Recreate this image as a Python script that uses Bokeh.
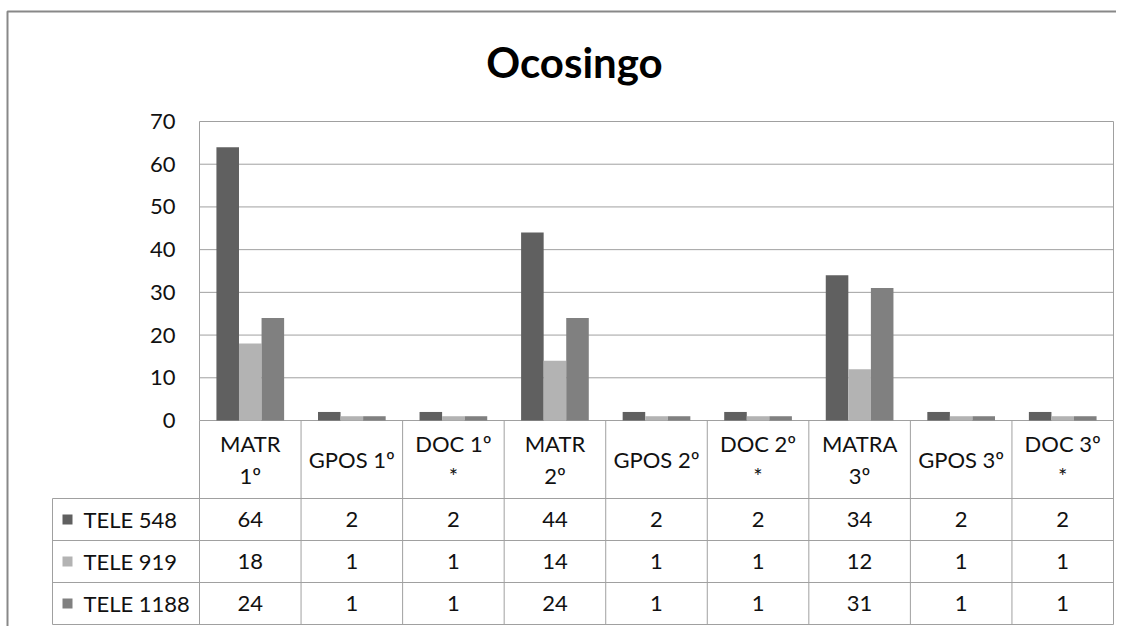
from bokeh.plotting import figure
from bokeh.models import Range1d, FixedTicker, ColumnDataSource
from bokeh.transform import dodge
from bokeh.core.properties import value
from bokeh.embed import file_html
from bokeh.resources import INLINE

# ---------------- data ----------------
title_text = "Ocosingo"
categories = ["MATR 1º", "GPOS 1º", "DOC 1º *", "MATR 2º", "GPOS 2º",
              "DOC 2º *", "MATRA 3º", "GPOS 3º", "DOC 3º *"]
header_labels = ["MATR\n1º", "GPOS 1º", "DOC 1º\n*", "MATR\n2º", "GPOS 2º",
                 "DOC 2º\n*", "MATRA\n3º", "GPOS 3º", "DOC 3º\n*"]
series_names = ["TELE 548", "TELE 919", "TELE 1188"]
tele_548 = [64, 2, 2, 44, 2, 2, 34, 2, 2]
tele_919 = [18, 1, 1, 14, 1, 1, 12, 1, 1]
tele_1188 = [24, 1, 1, 24, 1, 1, 31, 1, 1]
y_ticks = [0, 10, 20, 30, 40, 50, 60, 70]

# ---------------- layout / styles ----------------
W, H = 1116, 626
PLOT_L, PLOT_R = 199, 1113          # px of chart area
PLOT_T, PLOT_B = 121, 420           # px of 70 line and 0 line
TABLE_L = 52
HDR_PX, ROW_PX = 78, 42
YMAX = y_ticks[-1]
N = len(categories)
PXU = (PLOT_R - PLOT_L) / N         # px per category
PYU = (PLOT_B - PLOT_T) / YMAX      # px per value unit


def X(px):
    return (px - PLOT_L) / PXU


def Y(py):
    return (PLOT_B - py) / PYU


colors = ["#606060", "#b3b3b3", "#808080"]
GRID = "#a0a0a0"
BORDER = "#888888"
TXT = "#111111"
FONT = "Lato"
FS = "22px"
BAR_W = 0.2222

HDR = HDR_PX / PYU
ROW = ROW_PX / PYU
LW = -X(TABLE_L)                    # label column width (category units)
TB = -(HDR + 3 * ROW)               # table bottom

series = [tele_548, tele_919, tele_1188]
xc = [i + 0.5 for i in range(N)]
src = ColumnDataSource(dict(x=xc, lab=header_labels,
                            s0=tele_548, s1=tele_919, s2=tele_1188))

p = figure(width=W, height=H,
           x_range=Range1d(X(0), X(W)), y_range=Range1d(Y(H), Y(0)),
           x_axis_location=None,
           min_border_left=0, min_border_right=0,
           min_border_top=0, min_border_bottom=0,
           output_backend="svg", toolbar_location=None)
p.background_fill_color = "white"
p.border_fill_color = "white"
p.outline_line_color = None
p.xgrid.visible = False
p.ygrid.visible = False

# y axis drawn at the chart's left edge
ya = p.yaxis[0]
ya.fixed_location = 0
ya.ticker = FixedTicker(ticks=y_ticks)
ya.axis_line_color = None
ya.major_tick_line_color = None
ya.minor_tick_line_color = None
ya.major_tick_in = 0
ya.major_tick_out = 0
ya.major_label_text_font = FONT
ya.major_label_text_font_size = FS
ya.major_label_text_color = TXT
ya.major_label_standoff = 24

# outer chart border (left + top)
p.line(x=[X(7), X(7), X(W)], y=[Y(H), Y(11), Y(11)],
       line_color=BORDER, line_width=2)

# title
p.text(x=[X(574)], y=[Y(61)], text=[title_text],
       text_font=value(FONT), text_font_size="42px", text_font_style="bold",
       text_color="#000000", text_align="center", text_baseline="alphabetic")

# horizontal gridlines
p.segment(x0=[0] * len(y_ticks), x1=[N] * len(y_ticks), y0=y_ticks, y1=y_ticks,
          line_color=GRID, line_width=1)

# bars
offsets = [-BAR_W, 0.0, BAR_W]
for k in range(3):
    p.vbar(x=dodge("x", offsets[k]), top="s%d" % k, bottom=0,
           width=BAR_W, source=src, fill_color=colors[k], line_color=None)

# table lines
vx = list(range(N + 1))
p.segment(x0=vx, x1=vx, y0=[0] * len(vx), y1=[TB] * len(vx),
          line_color=GRID, line_width=1)
p.segment(x0=[0, N], x1=[0, N], y0=[0, 0], y1=[YMAX, YMAX],
          line_color=GRID, line_width=1)
p.segment(x0=[-LW], x1=[-LW], y0=[-HDR], y1=[TB], line_color=GRID, line_width=1)
hy = [-HDR - r * ROW for r in range(4)]
p.segment(x0=[-LW] * 4, x1=[N] * 4, y0=hy, y1=hy, line_color=GRID, line_width=1)

# header row (category labels)
p.text(x="x", y=-HDR / 2, text="lab", source=src,
       text_font=value(FONT), text_font_size=FS, text_color=TXT,
       text_align="center", text_baseline="middle", text_line_height=1.2)

# data rows
for r in range(3):
    yr = -HDR - (r + 0.5) * ROW
    p.text(x=xc, y=[yr] * N, text=[str(v) for v in series[r]],
           text_font=value(FONT), text_font_size=FS, text_color=TXT,
           text_align="center", text_baseline="middle")
    p.scatter(x=[X(67)], y=[yr], marker="square", size=10,
              fill_color=colors[r], line_color=None)
    p.text(x=[X(83)], y=[yr], text=[series_names[r]],
           text_font=value(FONT), text_font_size=FS, text_color=TXT,
           text_align="left", text_baseline="middle")

open("out.html", "w").write(file_html(p, INLINE))
